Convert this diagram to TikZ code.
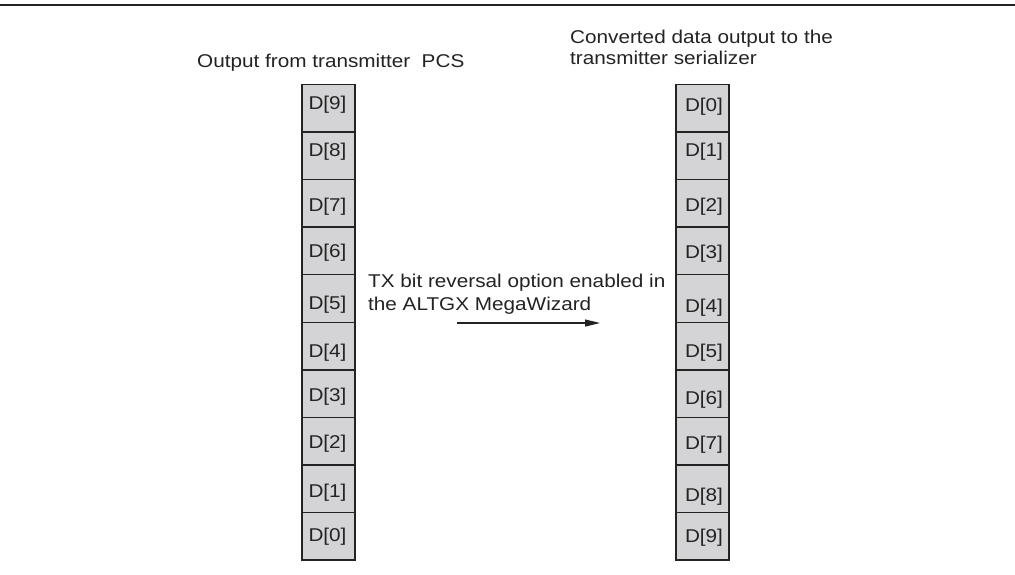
\documentclass[tikz,border=0pt]{standalone}
\usepackage{fontspec}
\setmainfont[FakeStretch=1.12]{Liberation Sans}
\usetikzlibrary{arrows.meta}
\definecolor{cellfill}{RGB}{212,212,214}
\definecolor{ink}{RGB}{35,35,35}
\begin{document}
\begin{tikzpicture}[x=1pt,y=-1pt,
  cell/.style={draw=ink, line width=1.4pt, fill=cellfill, minimum width=53pt,
    minimum height=47.55pt, inner sep=0pt, outer sep=0pt},
  bitlabel/.style={text=ink, font=\fontsize{18.5}{21}\selectfont, inner sep=0pt},
  caption/.style={text=ink, align=left, inner sep=0pt}]
  \useasboundingbox[fill=white] (0,0) rectangle (1015,574);

  % rule across the top
  \draw[line width=2.2pt, color=ink] (0,5) -- (1015,5);

  % column of bits as produced by the PCS
  \foreach \lab/\ty [count=\i from 0] in
      {9/105,8/152,7/207,6/253,5/305,4/353,3/397,2/444,1/493,0/537} {
    \node[cell] (l\i) at (328.5, {84.5+47.55*(\i+0.5)}) {};
    \node[bitlabel] (lt\i) at (327.5,\ty) {D[\lab]};
  }

  % column of bits after reversal
  \foreach \lab/\ty [count=\i from 0] in
      {0/107,1/152,2/207,3/254,4/308,5/353,6/400,7/445,8/497,9/538} {
    \node[cell] (r\i) at (702.5, {84.5+47.55*(\i+0.5)}) {};
    \node[bitlabel] (rt\i) at (704,\ty) {D[\lab]};
  }

  % captions
  \node[caption, font=\fontsize{18.5}{21}\selectfont, anchor=base west] (ltitle)
    at (197,67) {Output from transmitter\ \ PCS};
  \node[caption, font=\fontsize{18.5}{21.5}\selectfont, anchor=north west] (rtitle)
    at (570,29.5) {Converted data output to the\\transmitter serializer};
  \node[caption, font=\fontsize{18.5}{23}\selectfont, anchor=north west] (note)
    at (368,273.5) {TX bit reversal option enabled in\\the ALTGX MegaWizard};

  % reversal arrow
  \coordinate (a0) at (457,323);
  \coordinate (a1) at (600,323);
  \draw[ink, line width=1.2pt, -{Triangle[length=15pt,width=7pt]}] (a0) -- (a1);
\end{tikzpicture}
\end{document}
